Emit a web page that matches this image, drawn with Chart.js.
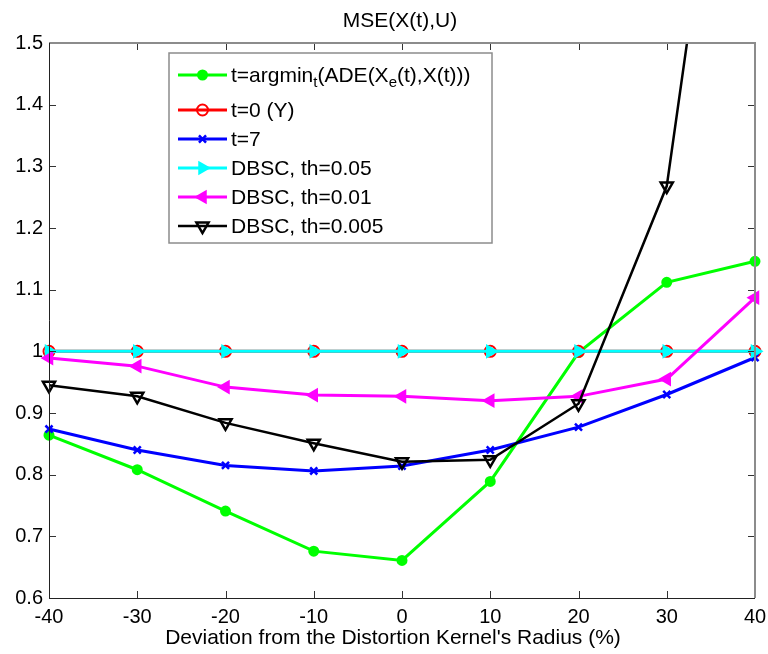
<!DOCTYPE html>
<html>
<head>
<meta charset="utf-8">
<title>MSE(X(t),U)</title>
<script src="https://cdn.jsdelivr.net/npm/chart.js@4.4.1/dist/chart.umd.min.js"></script>
<style>
    html, body { margin: 0; padding: 0; background: #ffffff; }
    #chart-box { width: 768px; height: 654px; position: relative; }
</style>
</head>
<body>
<div id="chart-box"><canvas id="mse-chart"></canvas></div>
<script>
// Deviation from the kernel radius (%)
const deviations = [-40, -30, -20, -10, 0, 10, 20, 30, 40];

const argminMSE = [0.864, 0.808, 0.741, 0.676, 0.661, 0.789, 0.998, 1.112, 1.146];
const t0MSE = [1, 1, 1, 1, 1, 1, 1, 1, 1];
const t7MSE = [0.874, 0.840, 0.815, 0.806, 0.814, 0.840, 0.877, 0.930, 0.990];
const dbsc005MSE = [1, 1, 1, 1, 1, 1, 1, 1, 1];
const dbsc001MSE = [0.989, 0.976, 0.942, 0.929, 0.927, 0.920, 0.927, 0.955, 1.087];
const dbsc0005MSE = [0.945, 0.927, 0.884, 0.851, 0.821, 0.824, 0.915, 1.268, 2.28];

const seriesLabels = [
    't=argmin_t(ADE(X_e(t),X(t)))',
    't=0 (Y)',
    't=7',
    'DBSC, th=0.05',
    'DBSC, th=0.01',
    'DBSC, th=0.005'
];

const chartTitle = 'MSE(X(t),U)';
const xAxisTitle = "Deviation from the Distortion Kernel's Radius (%)";

const yTicks = [0.6, 0.7, 0.8, 0.9, 1.0, 1.1, 1.2, 1.3, 1.4, 1.5];
const xTicks = [-40, -30, -20, -10, 0, 10, 20, 30, 40];

const FONT = "'Liberation Sans', Arial, sans-serif";

function toPoints(values) {
    return deviations.map((x, i) => ({ x: x, y: values[i] }));
}

function makeSeries(label, values, color, style, order) {
    return {
        label: label,
        data: toPoints(values),
        borderColor: color,
        backgroundColor: style.fill ? color : 'rgba(0,0,0,0)',
        borderWidth: style.lineWidth || 3,
        pointStyle: style.pointStyle,
        pointRadius: style.radius,
        pointRotation: style.rotation || 0,
        pointBorderWidth: style.markerWidth || 2,
        pointBorderColor: color,
        pointBackgroundColor: style.fill ? color : 'rgba(0,0,0,0)',
        tension: 0,
        order: order,
        clip: { left: 10, right: 10, top: 0, bottom: 10 }
    };
}

const seriesStyles = [
    { color: '#00ff00', pointStyle: 'circle', radius: 4.5, fill: true },
    { color: '#ff0000', pointStyle: 'circle', radius: 5.5, fill: false },
    { color: '#0000ff', pointStyle: 'crossRot', radius: 5, fill: false, markerWidth: 2.5 },
    { color: '#00ffff', pointStyle: 'triangle', radius: 6.5, rotation: 90, fill: true },
    { color: '#ff00ff', pointStyle: 'triangle', radius: 6.5, rotation: -90, fill: true },
    { color: '#000000', pointStyle: 'triangle', radius: 7, rotation: 180, fill: false, lineWidth: 2.5, markerWidth: 2.5 }
];

const seriesValues = [argminMSE, t0MSE, t7MSE, dbsc005MSE, dbsc001MSE, dbsc0005MSE];

// matlab draws later lines on top, so lower order for later series
const datasets = seriesValues.map((vals, i) =>
    makeSeries(seriesLabels[i], vals, seriesStyles[i].color, seriesStyles[i], seriesValues.length - 1 - i)
);

// text with "_x" as a one-char subscript
function drawRichText(ctx, text, x, y, size) {
    let cx = x;
    for (let i = 0; i < text.length; i++) {
        let ch = text[i];
        let sub = false;
        if (ch === '_' && i + 1 < text.length) {
            ch = text[++i];
            sub = true;
        }
        ctx.font = (sub ? Math.round(size * 0.7) : size) + 'px ' + FONT;
        ctx.fillText(ch, cx, sub ? y + size * 0.35 : y);
        cx += ctx.measureText(ch).width;
    }
}

const boxPlugin = {
    id: 'matlabBox',
    afterDraw(chart) {
        const { ctx, chartArea: a, scales } = chart;
        ctx.save();

        // titles
        ctx.fillStyle = '#000000';
        ctx.textAlign = 'center';
        ctx.textBaseline = 'middle';
        ctx.font = '21px ' + FONT;
        ctx.fillText(chartTitle, 400, 21);
        ctx.fillText(xAxisTitle, 393, 638);

        // inward ticks
        ctx.strokeStyle = '#333333';
        ctx.lineWidth = 1;
        ctx.beginPath();
        yTicks.forEach(v => {
            const py = Math.round(scales.y.getPixelForValue(v)) + 0.5;
            ctx.moveTo(a.left, py); ctx.lineTo(a.left + 7, py);
            ctx.moveTo(a.right, py); ctx.lineTo(a.right - 7, py);
        });
        xTicks.forEach(v => {
            const px = Math.round(scales.x.getPixelForValue(v)) + 0.5;
            ctx.moveTo(px, a.bottom); ctx.lineTo(px, a.bottom - 7);
            ctx.moveTo(px, a.top); ctx.lineTo(px, a.top + 7);
        });
        ctx.stroke();

        // top / right edges lighter than left / bottom
        ctx.strokeStyle = '#8c8c8c';
        ctx.lineWidth = 2;
        ctx.beginPath();
        ctx.moveTo(a.left, a.top); ctx.lineTo(a.right, a.top); ctx.lineTo(a.right, a.bottom);
        ctx.stroke();
        ctx.strokeStyle = '#222222';
        ctx.lineWidth = 1;
        ctx.beginPath();
        ctx.moveTo(Math.round(a.left) + 0.5, a.top);
        ctx.lineTo(Math.round(a.left) + 0.5, Math.round(a.bottom) + 0.5);
        ctx.lineTo(a.right, Math.round(a.bottom) + 0.5);
        ctx.stroke();

        // legend
        const lg = { x: 169, y: 53, w: 323, h: 190 };
        const rows = [75, 110, 139, 168, 197, 226];
        ctx.fillStyle = '#ffffff';
        ctx.fillRect(lg.x, lg.y, lg.w, lg.h);
        ctx.strokeStyle = '#8c8c8c';
        ctx.lineWidth = 1.5;
        ctx.strokeRect(lg.x, lg.y, lg.w, lg.h);

        datasets.forEach((ds, i) => {
            const y = rows[i];
            ctx.strokeStyle = ds.borderColor;
            ctx.lineWidth = ds.borderWidth;
            ctx.beginPath();
            ctx.moveTo(178, y);
            ctx.lineTo(227, y);
            ctx.stroke();

            ctx.fillStyle = ds.pointBackgroundColor;
            ctx.strokeStyle = ds.pointBorderColor;
            ctx.lineWidth = ds.pointBorderWidth;
            Chart.helpers.drawPoint(ctx, {
                pointStyle: ds.pointStyle,
                radius: ds.pointRadius,
                rotation: ds.pointRotation,
                borderWidth: ds.pointBorderWidth
            }, 202.5, y);

            ctx.fillStyle = '#000000';
            ctx.textBaseline = 'middle';
            ctx.textAlign = 'left';
            drawRichText(ctx, seriesLabels[i], 231, y + 1, 21);
        });

        ctx.restore();
    }
};

function renderMseChart() {
    const ctx = document.getElementById('mse-chart').getContext('2d');

    new Chart(ctx, {
        type: 'line',
        data: { datasets: datasets },
        options: {
            responsive: true,
            maintainAspectRatio: false,
            animation: false,
            events: [],
            layout: { padding: { left: 0, right: 13, top: 43, bottom: 0 } },
            plugins: {
                legend: { display: false },
                tooltip: { enabled: false },
                title: { display: false }
            },
            scales: {
                x: {
                    type: 'linear',
                    min: -40,
                    max: 40,
                    grid: { display: false, drawTicks: false },
                    border: { display: false },
                    ticks: {
                        stepSize: 10,
                        padding: 7,
                        color: '#000000',
                        font: { family: FONT, size: 20 },
                        maxRotation: 0
                    },
                    afterFit: function(scale) {
                        scale.height = 56;
                        scale.paddingLeft = 0;
                        scale.paddingRight = 0;
                    }
                },
                y: {
                    min: 0.6,
                    max: 1.5,
                    grid: { display: false, drawTicks: false },
                    border: { display: false },
                    ticks: {
                        stepSize: 0.1,
                        padding: 6,
                        color: '#000000',
                        font: { family: FONT, size: 20 },
                        callback: function(value) {
                            return String(Number(value.toFixed(1)));
                        }
                    },
                    afterFit: function(scale) {
                        scale.width = 49;
                        scale.paddingTop = 0;
                        scale.paddingBottom = 0;
                    }
                }
            }
        },
        plugins: [boxPlugin]
    });
}

renderMseChart();
</script>
</body>
</html>
